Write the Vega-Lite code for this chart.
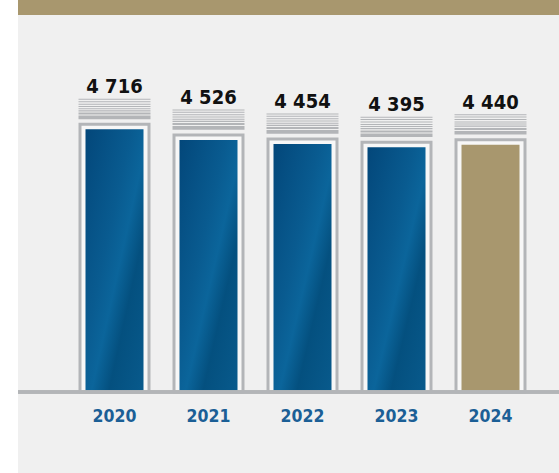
{
  "$schema": "https://vega.github.io/schema/vega-lite/v6.json",
  "width": 541,
  "height": 473,
  "autosize": {"type": "none"},
  "padding": {"left": 18, "top": 0, "right": 0, "bottom": 0},
  "background": "#ffffff",
  "config": {
    "view": {"fill": "#f0f0f0", "stroke": null},
    "locale": {"number": {"decimal": ",", "thousands": " ", "grouping": [3], "currency": ["", ""]}}
  },
  "data": {
    "values": [
      {"year": "2020", "value": 4716},
      {"year": "2021", "value": 4526},
      {"year": "2022", "value": 4454},
      {"year": "2023", "value": 4395},
      {"year": "2024", "value": 4440}
    ]
  },
  "encoding": {
    "x": {
      "field": "year",
      "type": "nominal",
      "axis": null,
      "scale": {"type": "band", "range": [49.5, 519.5], "paddingInner": 0, "paddingOuter": 0}
    }
  },
  "layer": [
    {
      "mark": {"type": "rule", "color": "#a8976e", "strokeWidth": 15},
      "encoding": {
        "x": null,
        "y": {"datum": 6903, "type": "quantitative", "axis": null, "scale": {"domain": [0, 7038], "range": [392, 0], "nice": false}}
      }
    },
    {
      "mark": {"type": "bar", "width": 69, "fill": "#f7f7f7", "stroke": "#b3b5b8", "strokeWidth": 3, "yOffset": -5},
      "encoding": {
        "y": {"field": "value", "type": "quantitative", "axis": null, "scale": {"domain": [0, 7038], "range": [392, 0], "nice": false}},
        "y2": {"datum": 0}
      }
    },
    {
      "mark": {"type": "bar", "width": 58},
      "encoding": {
        "y": {"field": "value", "type": "quantitative"},
        "y2": {"datum": 0},
        "fill": {
          "condition": {"test": "datum.year === '2024'", "value": "#a8976e"},
          "value": {
            "gradient": "linear", "x1": 0, "y1": 0, "x2": 1, "y2": 1,
            "stops": [
              {"offset": 0, "color": "#03477a"},
              {"offset": 0.4, "color": "#095b90"},
              {"offset": 0.55, "color": "#0b659b"},
              {"offset": 0.7, "color": "#04507f"},
              {"offset": 1, "color": "#085a8c"}
            ]
          }
        }
      }
    },
    {
      "mark": {"type": "rule", "color": "#b3b5b8", "strokeWidth": 3},
      "encoding": {"x": null, "y": {"datum": 0, "type": "quantitative"}}
    },
    {
      "mark": {"type": "tick", "color": "#b3b5b8", "size": 72, "thickness": 1, "yOffset": -30, "opacity": 1},
      "encoding": {"y": {"field": "value", "type": "quantitative"}}
    },
    {
      "mark": {"type": "tick", "color": "#b3b5b8", "size": 72, "thickness": 1, "yOffset": -27.6, "opacity": 1},
      "encoding": {"y": {"field": "value", "type": "quantitative"}}
    },
    {
      "mark": {"type": "tick", "color": "#b3b5b8", "size": 72, "thickness": 1, "yOffset": -25.2, "opacity": 1},
      "encoding": {"y": {"field": "value", "type": "quantitative"}}
    },
    {
      "mark": {"type": "tick", "color": "#b3b5b8", "size": 72, "thickness": 1, "yOffset": -22.8, "opacity": 1},
      "encoding": {"y": {"field": "value", "type": "quantitative"}}
    },
    {
      "mark": {"type": "tick", "color": "#b3b5b8", "size": 72, "thickness": 1, "yOffset": -20.6, "opacity": 1},
      "encoding": {"y": {"field": "value", "type": "quantitative"}}
    },
    {
      "mark": {"type": "tick", "color": "#b3b5b8", "size": 72, "thickness": 1.2, "yOffset": -18.5, "opacity": 1},
      "encoding": {"y": {"field": "value", "type": "quantitative"}}
    },
    {
      "mark": {"type": "tick", "color": "#b3b5b8", "size": 72, "thickness": 2, "yOffset": -15.8, "opacity": 1},
      "encoding": {"y": {"field": "value", "type": "quantitative"}}
    },
    {
      "mark": {"type": "tick", "color": "#b3b5b8", "size": 72, "thickness": 3.6, "yOffset": -12, "opacity": 1},
      "encoding": {"y": {"field": "value", "type": "quantitative"}}
    },
    {
      "mark": {"type": "text", "font": "DejaVu Sans Condensed, sans-serif", "fontWeight": "bold", "fontSize": 20, "color": "#111111", "baseline": "alphabetic", "align": "center", "dy": -36},
      "encoding": {
        "y": {"field": "value", "type": "quantitative"},
        "text": {"field": "value", "type": "quantitative", "format": ","}
      }
    },
    {
      "mark": {"type": "text", "font": "DejaVu Sans Condensed, sans-serif", "fontWeight": "bold", "fontSize": 17.5, "color": "#1b5f96", "baseline": "alphabetic", "align": "center", "dy": 30},
      "encoding": {
        "y": {"datum": 0, "type": "quantitative"},
        "text": {"field": "year", "type": "nominal"}
      }
    }
  ]
}
